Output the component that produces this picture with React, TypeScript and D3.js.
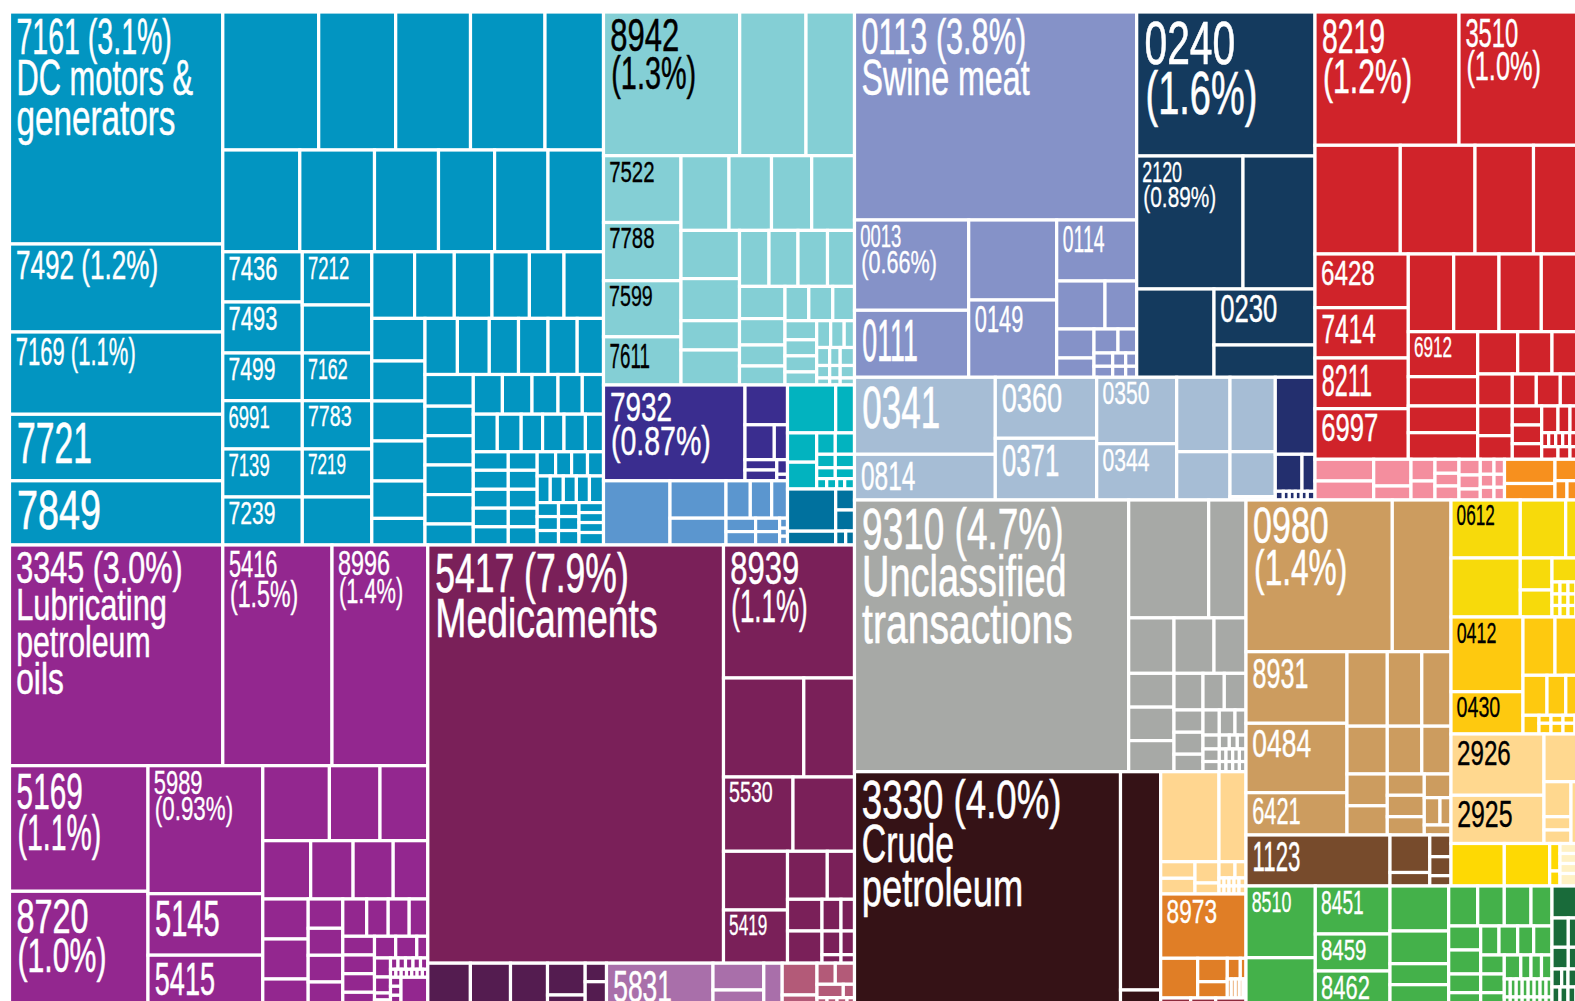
import * as d3 from "d3";

type N = { w: number; dir?: "r" | "c"; k?: any[]; code?: string; color?: string; value?: number };
// r: children share the width, c: children share the height. Numbers are trade shares.
const R = (w: number, ...k: any[]): N => ({ w, dir: "r", k });
const C = (w: number, ...k: any[]): N => ({ w, dir: "c", k });
const L = (w: number, code: string): N => ({ w, code });
const paint = (color: string, n: N): N => ({ ...n, color });

const machinery = R(533,
  C(213.3, L(232, "7161"), L(88, "7492"), L(82.3, "7169"), L(66.5, "7721"), L(64.2, "7849")),
  C(380.7,
    R(138, 95.9, 77, 74.8, 74.5, 58.5),
    R(101.8, 77, 74.7, 64, 56.1, 53.4, 55.5),
    R(293.2,
      C(79.5, L(50.2, "7436"), L(51, "7493"), L(47.7, "7499"), L(48.3, "6991"), L(48, "7139"), L(48, "7239")),
      C(69.5, L(53.2, "7212"), 48, L(47.7, "7162"), L(48.3, "7783"), L(48, "7219"), 48),
      C(231.7,
        R(66.6, 42.8, 39.7, 37.7, 37.4, 34.6, 39.5),
        R(226.6,
          C(53.2, 42.6, 40, 40, 40, 37.4, 26.6),
          C(178.5,
            R(56.1, 32.4, 31.9, 29.2, 29.5, 29.2, 26.3),
            R(170.5,
              C(48.3, 31.7, 29.5, 29.3, 29.6, 29.4, 21),
              C(130.2,
                R(39.7, 29.1, 29.6, 26, 24.3, 21.2),
                R(37.6, 24, 23.9, 21.4, 21.4, 21.4, 18.1),
                R(93.2,
                  C(35, 18.5, 19, 18.9, 18.6, 18.2),
                  C(28.9, 18.5, 19, 18.9, 18.6, 18.2),
                  C(66.3,
                    R(24.2, 18.4, 16, 15.9, 16),
                    R(26.6, 13, 13, 13, 13, 14),
                    R(42.4, C(21.3, 14, 14, 14.5), C(20.5, 14, 14, 14.5), C(24.5, 10, 10, 10, 12.5)))))))))))
);

const instruments = C(373,
  R(143.7, L(136.2, "8942"), 66.3, 48.5),
  R(229.3,
    C(77.5, L(66.8, "7522"), L(58.2, "7788"), L(56.1, "7599"), L(48.2, "7611")),
    C(173.5,
      R(74.7, 48, 42.5, 40.2, 42.8),
      R(154.6,
        C(58.5, 48.2, 42.1, 29.3, 35),
        C(115,
          R(56, 29.5, 29, 29.5, 27),
          R(98.6,
            C(45.5, 32.2, 26.4, 21, 19),
            C(69.5,
              R(34.3, 23.8, 24, 21.7),
              R(64.3,
                C(31.7, 19, 16, 16, 13),
                C(37.8, R(26.8, 14, 13.5, 10.3), R(18, 13, 10.5, 14.3), R(12.5, 13, 10.5, 14.3), R(7, 13, 10.5, 14.3)))))))))
);

const ships = R(95.8, L(141.5, "7932"),
  C(42.5, 39.8, R(34.9, 29.3, 13.2), R(21.1, C(31.8, 10.3, 10.8), C(10.7, 14.6, 6.5))));
const aircraft = R(64.2, 66.5, C(56, 37.4, 26.8),
  C(61.5, R(37.4, 24.3, 21.4, 15.8),
    R(26.8, C(29.6, 13.4, 13.4), C(24, 13.4, 13.4), C(7.9, 10, 8, 8.8))));
const metalsCyan = C(104,
  R(47.9, 48.2, 18.8),
  R(56.1, C(29.2, 29.3, 26.8),
    C(37.8, R(21.4, 18.6, 19.2), R(13.5, 18.6, 19.2), R(10.8, 18.6, 19.2), R(10.4, 10, 10, 8, 9.8))));
const metalsTeal = R(56, C(48.2, 42.2, 13.8), C(18.8, 21, 21, R(14, 10, 8.8)));

const chemicals = C(418.3,
  R(220.7, L(213.3, "3345"), L(109.2, "5416"), L(95.8, "8996")),
  R(249.3,
    C(138.5, L(125.6, "5169"), L(123.7, "8720")),
    C(114.8, L(128, "5989"), L(61.5, "5145"), L(59.8, "5415")),
    C(165,
      R(75, 66.6, 50.6, 47.8),
      R(58.3, 47.9, 42.4, 40.1, 34.6),
      R(116,
        C(45.4, 40, 40, 36),
        C(34.6, 29.3, 27, 26.7, 33),
        C(85,
          R(37.3, 23.9, 21.5, 21, 18.6),
          R(78.7,
            C(31.7, 18.7, 18.7, 18.6, 22.7),
            C(53.3,
              R(21.7, 21.2, 21.1, 11),
              R(57,
                C(16, 19, 16, 7, 15),
                C(37.3,
                  R(11.3, 7.5, 7.5, 7.5, 7.5, 7.3),
                  R(8, 5.4, 5.3, 5.3, 5.3, 5.3, 5.3, 5.4),
                  R(37.7, C(10.5, 9, 9, 10, 9.7), 26.8))))))))
  )
);

const pharma = R(418.2, L(295.7, "5417"),
  C(131,
    L(133, "8939"),
    R(99, 80.3, 50.7),
    R(74.3, L(69.5, "5530"), 61.5),
    R(111.9,
      C(64, 58.7, L(53.2, "5419")),
      C(67,
        R(48, 39.8, 27.2),
        R(63.9, C(34.5, 31.7, 32.2), C(32.5, R(31.7, 19, 13.5), R(23.7, 19, 13.5), R(8.5, 19, 13.5)))))));
const plum = R(178.7, 42.6, 40.1, 37, C(37.7, 31.8, 20), C(21.3, 18.5, 33.3));
const mauve = R(175.7, L(106.5, "5831"), C(50.8, 26.8, 25), 18.4);
const rose = R(72.3, C(34.8, 31.8, 20),
  C(37.5, R(21.1, 18.3, 19.2), R(13.4, 26.3, 11.2), R(17.3, 10, 10, 10, 7.5)));

const swine = C(282.2, L(208, "0113"),
  R(157.3,
    C(114.2, L(90.3, "0013"), L(67, "0111")),
    C(88, 80, L(77.3, "0149")),
    C(80, L(61, "0114"), R(48, 48.3, 31.7),
      R(48.3, C(37.3, 29, 19.3),
        C(42.7, R(24, 24, 18.7), R(13.3, 18.7, 13, 11), R(11, 18.7, 13, 11))))));
const cereals = C(178.3, L(144, "0240"), R(133, L(106.3, "2120"), 72),
  R(88.3, 77.3, C(101, L(56, "0230"), 32.3)));
const fish = R(122.7,
  C(140.8, L(77, "0341"), L(45.7, "0814")),
  C(101.4, L(61, "0360"), L(61.7, "0371")),
  C(80, L(66.4, "0350"), L(56.3, "0344")),
  C(53.3, 74.4, 48.3),
  C(45.3, 74.4, 45, 3.3));
const indigo = C(39.7, 77, R(37, 26.7, 13), R(8.7, 8, 6, 6, 6, 6, 7.7));

const metalGoods = C(285,
  R(133.3, L(144, "8219"), L(141, "3510")),
  R(108.7, 85.3, 74.7, 58.5, 66.5),
  R(205.3,
    C(93.3, L(53.7, "6428"), L(50.3, "7414"), L(50.7, "8211"), L(50.6, "6997")),
    C(191.7,
      R(77.7, 45.4, 45.3, 42.3, 58.7),
      R(127.6,
        C(69.4, L(45, "6912"), 29.3, 26.7, 26.6),
        C(122.3,
          R(42.3, 40, 34.3, 48),
          R(32, 34.6, 24, 24, 39.7),
          R(53.3,
            C(34.6, 29.7, 23.6),
            C(29.4, 19, 18.7, 15.6),
            C(58.3, R(26.7, 16.3, 12, 30), R(14, 7, 7, 7, 7, 30.3), R(12.6, 16.3, 12, 30)))))))
);
const pink = R(40.7, C(58.7, 21.7, 19), C(37.3, 26.7, 14), C(24, 21.7, 19), C(24, 14, 12.7, 14),
  C(21.3, 15.7, 14, 11), C(13.7, 15, 13, 12.7), C(10.5, 15, 13, 12.7));
const amber = R(40.7, C(50.5, 24.2, 16.5), C(45, 21.4, R(19.3, 12, 10, 23)));

const unclassified = R(271.7, L(274.2, "9310"),
  C(117.3,
    R(112.7, 80, 37.3),
    R(53, 45.3, 40, 32),
    R(94,
      C(45.3, 32.3, 32, 29.7),
      C(72,
        R(35, 29, 21.3, 21.7),
        R(59,
          C(29, 21.3, 21, 16.7),
          C(43,
            R(24, 16.3, 15.7, 11),
            R(35, C(16.3, 13.3, 12, 9.7),
              C(26.7, R(13.3, 10, 8, 8.7), R(12, 6.7, 6.7, 6.7, 6.6), R(9.7, 6.7, 6.7, 6.7, 6.6)))))))));
const crudeOil = R(243.3, L(266, "3330"), C(40.2, 218.3, 25));
const cream = C(85.3, R(90, 58.3, 27),
  R(32.3, C(34.3, 16.6, 15.7), C(24, 21.3, 11),
    C(27, R(16.3, 16, 11), R(8, 5, 5, 5, 5, 7), R(8, 5, 5, 5, 5, 7))));
const orange = C(85.3, L(64.3, "8973"),
  R(39.7, 37, C(29.6, 23.4, 16.3), C(18.7, R(20.7, 13, 5.7), R(19, 4, 4, 4, 3.7, 3))));
const maroonStrip = R(17, 30, 25, 30.3);

const tan = C(205,
  R(151.7, L(146.3, "0980"), 58.7),
  R(183.3,
    C(101, L(71.6, "8931"), L(69.4, "0484"), L(42.3, "6421")),
    C(104,
      R(74.5, 40.3, 34.5, 29.2),
      R(47.8, 40.3, 34.5, 29.2),
      R(61, C(40.3, 31.8, 29.2), C(37, 21.3, 21.4, 18.3), C(26.7, 23.7, R(27.3, 15.7, 11), 10)))));
const brown = R(51, L(144, "1123"), C(39.8, 37.5, 13.5), C(21.2, 21.7, 19, 10.3));

const yellow = R(117,
  C(69.3, L(58, "0612"), 59),
  C(79.7,
    R(58, 45.4, 34.3),
    R(59, C(31.7, 32, 27),
      C(48, 24, R(12, 8, 8, 8, 8, 8, 8), R(11.5, 8, 8, 8, 8, 8, 8), R(11.5, 8, 8, 8, 8, 8, 8)))));
const gold = R(117,
  C(72, L(74.7, "0412"), L(42.3, "0430")),
  C(77,
    R(58.3, 32, 45),
    R(40, 24, 18.8, 34.2),
    R(18.7, 16, C(61, R(8, 12, 12, 12, 12, 13), R(10.7, 12, 12, 12, 12, 13)))));
const peach = R(109.5,
  C(93, L(61.3, "2926"), L(48.2, "2925")),
  C(56, 47.7, R(61.8, C(27, 35, 13.3, 13.5), 29)));
const sun = R(42.5, 53.3, 45.4, C(10.3, 27.5, 15));
const pale = C(40, 10, 10, 10, 12.5);

const machines = R(129,
  C(69.3, L(71.7, "8510"), 57.3),
  C(74.7, L(48, "8451"), L(37, "8459"), L(44, "8462")),
  C(58.7, 45, 32.7, 21, 30.3),
  C(103.3,
    R(40, 29, 26.6, 26.7, 21),
    R(89,
      C(32, 24, 24, 18.7, 22.3),
      C(71.3,
        R(29, 18.3, 18.7, 16, 18.3),
        R(60,
          C(23.6, 19, 18.7, 22.3),
          C(47.7, R(24, 16.5, 10.2, 10.5, 10.5), R(18, 6, 6, 6, 6, 6, 6, 6, 6), R(18, 6, 6, 6, 6, 6, 6, 6, 6)))))));
const pine = C(48, 32, R(29.3, 16.3, 31.7), R(21.7, 16.3, 31.7), R(18, 9.7, 6.3, 32), R(28, 8, 8, 8, 8, 16));

const sectorColors = {
  machinery: "#0295C1", instruments: "#84CFD5", ships: "#3A2D8F", aircraft: "#5B96CF", cyan: "#02B3BF",
  teal: "#00719E", chemicals: "#93278F", pharma: "#7A2059", plum: "#541C50", mauve: "#A96FAA", rose: "#B35A78",
  swine: "#8592C8", cereals: "#143A5E", fish: "#A6BDD5", indigo: "#232F6E", metal: "#D0232A", pink: "#F48E9E",
  amber: "#F7901E", grey: "#A7A9A6", crude: "#351216", cream: "#FFD690", orange: "#E07E26", maroon: "#8E2A3C",
  tan: "#CC9C5F", brown: "#774B2C", green: "#44B14A", pine: "#196B3A", yellow: "#F7DA0B", gold: "#FEC90F",
  peach: "#FFD88F", sun: "#FED903", pale: "#FFF1C4",
};
const darkTextColors = [sectorColors.instruments, sectorColors.yellow, sectorColors.gold, sectorColors.peach];

const labelLines: Record<string, string[]> = {
  "7161": ["7161 (3.1%)", "DC motors &", "generators"], "7492": ["7492 (1.2%)"], "7169": ["7169 (1.1%)"],
  "8942": ["8942", "(1.3%)"], "7932": ["7932", "(0.87%)"],
  "3345": ["3345 (3.0%)", "Lubricating", "petroleum", "oils"], "5416": ["5416", "(1.5%)"], "8996": ["8996", "(1.4%)"],
  "5169": ["5169", "(1.1%)"], "8720": ["8720", "(1.0%)"], "5989": ["5989", "(0.93%)"],
  "5417": ["5417 (7.9%)", "Medicaments"], "8939": ["8939", "(1.1%)"],
  "0113": ["0113 (3.8%)", "Swine meat"], "0013": ["0013", "(0.66%)"], "0240": ["0240", "(1.6%)"], "2120": ["2120", "(0.89%)"],
  "8219": ["8219", "(1.2%)"], "3510": ["3510", "(1.0%)"],
  "9310": ["9310 (4.7%)", "Unclassified", "transactions"], "3330": ["3330 (4.0%)", "Crude", "petroleum"],
  "0980": ["0980", "(1.4%)"],
};
const labelSizes: Record<string, number> = {
  "7161": 44, "7492": 36, "7169": 34, "7721": 51, "7849": 50, "7436": 29, "7212": 28, "7493": 29, "7499": 28, "7162": 27,
  "6991": 28, "7783": 26, "7139": 28, "7219": 26, "7239": 28, "8942": 41, "7522": 27, "7788": 27, "7599": 26, "7611": 32,
  "7932": 37, "3345": 40, "5416": 33, "8996": 31, "5169": 45, "8720": 43, "5989": 29, "5145": 44, "5415": 41, "5417": 49,
  "8939": 41, "5530": 26, "5419": 26, "5831": 40, "0113": 44, "0013": 28, "0111": 53, "0149": 33, "0114": 33, "0240": 54,
  "2120": 27, "0230": 34, "0341": 53, "0814": 37, "0360": 36, "0371": 39, "0350": 28, "0344": 28, "8219": 43, "3510": 36,
  "6428": 32, "7414": 37, "8211": 40, "6997": 34, "6912": 26, "9310": 51, "3330": 48, "8973": 30, "0980": 45, "8931": 38,
  "0484": 35, "6421": 33, "1123": 38, "8510": 27, "8451": 29, "8459": 27, "8462": 29, "0612": 26, "0412": 27, "0430": 26,
  "2926": 32, "2925": 33,
};

const c = sectorColors;
const treeData: N = R(1003,
  C(845,
    R(533,
      paint(c.machinery, { ...machinery, w: 594 }),
      C(251,
        paint(c.instruments, instruments),
        R(160,
          C(184, paint(c.ships, ships), paint(c.aircraft, aircraft)),
          C(67, paint(c.cyan, metalsCyan), paint(c.teal, metalsTeal))))),
    R(470,
      paint(c.chemicals, chemicals),
      C(426.7,
        paint(c.pharma, pharma),
        R(51.8, paint(c.plum, plum), paint(c.mauve, mauve), paint(c.rose, rose))))),
  C(745.5,
    R(488,
      C(460.5,
        R(365.3, paint(c.swine, swine), paint(c.cereals, cereals)),
        R(122.7, paint(c.fish, { ...fish, w: 420.8 }), paint(c.indigo, indigo))),
      C(285,
        R(447.3, paint(c.metal, { ...metalGoods, w: 285 })),
        R(40.7, paint(c.pink, { ...pink, w: 189.5 }), paint(c.amber, { ...amber, w: 95.5 })))),
    R(515,
      C(391.5,
        paint(c.grey, unclassified),
        R(243.3,
          paint(c.crude, { ...crudeOil, w: 306.2 }),
          C(85.3, paint(c.cream, { ...cream, w: 122.3 }), paint(c.orange, { ...orange, w: 104 }), paint(c.maroon, maroonStrip)))),
      C(354,
        R(386,
          C(205, paint(c.tan, { ...tan, w: 335 }), paint(c.brown, brown)),
          C(149,
            paint(c.yellow, yellow), paint(c.gold, gold), paint(c.peach, peach),
            R(42.5, paint(c.sun, { ...sun, w: 109 }), paint(c.pale, pale)))),
        R(129, paint(c.green, { ...machines, w: 306 }), paint(c.pine, pine)))))
);

// Turn relative shares at each level into one value per leaf.
function prepare(raw: any, share: number, color: string): any {
  const n: N = typeof raw === "number" ? { w: raw } : raw;
  const col = n.color ?? color;
  if (!n.k) return { ...n, color: col, value: share };
  const kids = n.k.map((x) => (typeof x === "number" ? { w: x } : x));
  const sum = d3.sum(kids, (x: N) => x.w);
  return { ...n, color: col, value: 0, k: kids.map((x: N) => prepare(x, (share * x.w) / sum, col)) };
}

const tile = (node: any, x0: number, y0: number, x1: number, y1: number) =>
  node.data.dir === "r" ? d3.treemapDice(node, x0, y0, x1, y1) : d3.treemapSlice(node, x0, y0, x1, y1);

const glyphEm = (ch: string) => {
  if (ch === "1") return 0.21;
  if (/[0-9]/.test(ch)) return 0.42;
  if (ch === " ") return 0.2;
  if (ch === "(" || ch === ")") return 0.27;
  if (ch === ".") return 0.2;
  if (ch === "%") return 0.7;
  if (ch === "&") return 0.5;
  if (ch === "m") return 0.58;
  if (ch === "M") return 0.68;
  if (ch === "w") return 0.5;
  if ("iljf".includes(ch)) return 0.2;
  if ("tr".includes(ch)) return 0.24;
  if ("cs".includes(ch)) return 0.37;
  return 0.42;
};
const textWidth = (s: string, fs: number) => d3.sum(Array.from(s), glyphEm) * fs;

export default function App() {
  const root = d3.hierarchy(prepare(treeData, 1, "#000"), (d: any) => d.k).sum((d: any) => (d.k ? 0 : d.value));
  const layout = d3.treemap().tile(tile as any).size([1590.5, 1003]);
  layout(root as any);
  const leaves: any[] = root.leaves();
  return (
    <svg width={1575} height={1001} style={{ position: "absolute", left: 0, top: 0, background: "#fff" }}>
      <g transform="translate(9.5,12)">
        {leaves.map((l, i) => (
          <rect key={i} x={l.x0} y={l.y0} width={Math.max(0, l.x1 - l.x0)} height={Math.max(0, l.y1 - l.y0)}
            fill={l.data.color} stroke="#fff" strokeWidth={3.2} />
        ))}
        {leaves.filter((l) => l.data.code).map((l) => {
          const code = l.data.code as string;
          const fs = labelSizes[code];
          const lines = labelLines[code] ?? [code];
          const fill = darkTextColors.includes(l.data.color) ? "#000" : "#fff";
          return lines.map((t, j) => (
            <text key={code + j} x={l.x0 + 3.5 + fs * 0.08 + (t[0] === "(" ? 1 : 0)} y={l.y0 + fs * 0.96 + j * fs * 0.92}
              fontFamily="'Liberation Sans Narrow','Liberation Sans',sans-serif" fontSize={fs * 1.12} fill={fill}
              stroke={fill} strokeWidth={fs * 0.012}
              textLength={textWidth(t, fs)} lengthAdjust="spacingAndGlyphs">
              {t}
            </text>
          ));
        })}
      </g>
    </svg>
  );
}
